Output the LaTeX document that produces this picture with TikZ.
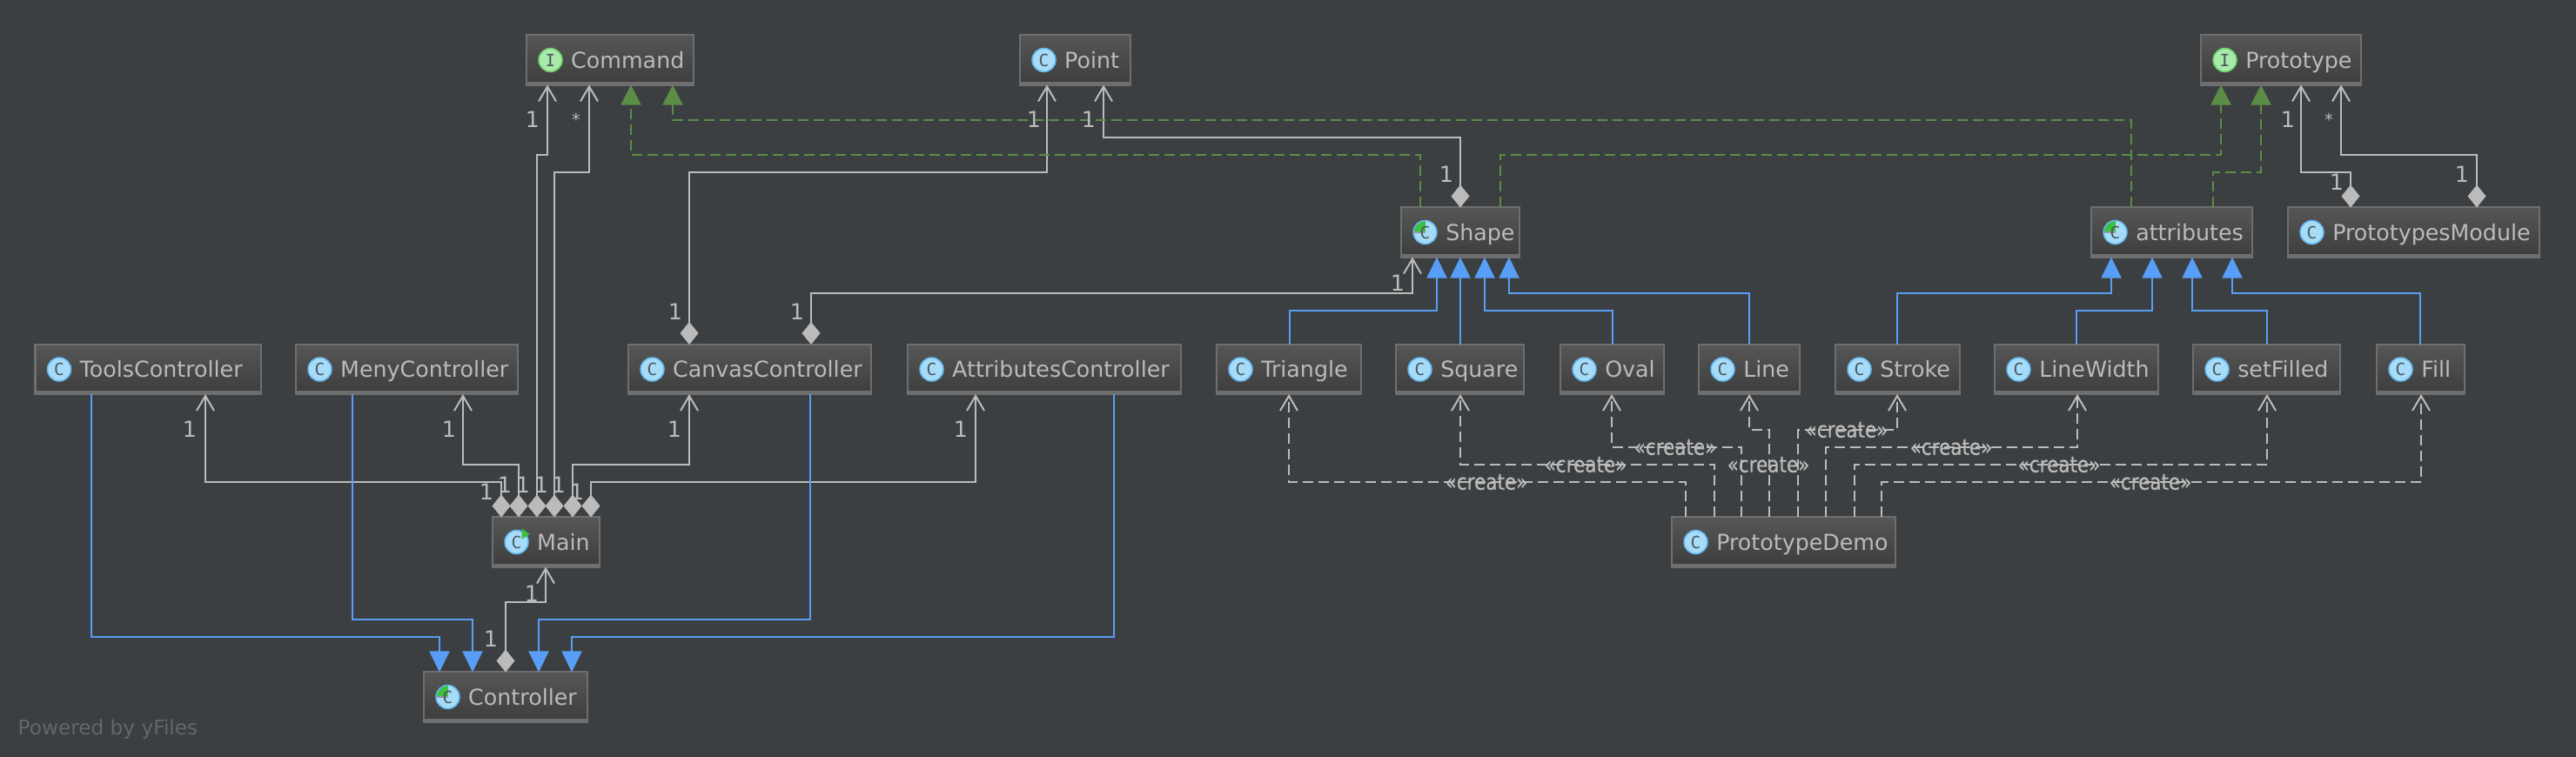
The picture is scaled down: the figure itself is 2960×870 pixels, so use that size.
\documentclass[tikz,border=0pt]{standalone}
\usepackage{fontspec}
\setmainfont{DejaVu Sans}
\newfontfamily\iconfont{DejaVu Sans Mono}
\newfontfamily\createfont[FakeStretch=.85,FakeBold=.4]{DejaVu Sans}
\usetikzlibrary{arrows.meta}
\definecolor{bgcol}{HTML}{3C3F41}
\definecolor{boxedge}{HTML}{6E6E6E}
\definecolor{boxtop}{HTML}{565656}
\definecolor{boxbot}{HTML}{3D3D3D}
\definecolor{ink}{HTML}{BBBBBB}
\definecolor{bluearrow}{HTML}{589DF6}
\definecolor{greenarrow}{HTML}{5B8D47}
\definecolor{iconblue}{HTML}{A6DCF8}
\definecolor{iconrim}{HTML}{62B6EE}
\definecolor{icongreen}{HTML}{A8EBA8}
\definecolor{iconrimg}{HTML}{6CCB6C}
\definecolor{iconpie}{HTML}{3FBF3F}
\definecolor{iconink}{HTML}{4B5560}
\definecolor{faint}{HTML}{63676A}
\tikzset{
classbox/.style={draw=boxedge, line width=.02cm, top color=boxtop, bottom color=boxbot, minimum height=.57cm, inner sep=0, outer sep=0,
	path picture={\fill[boxedge] (path picture bounding box.south west) rectangle ([yshift=.04cm]path picture bounding box.south east);}},
clsicon/.style={circle, minimum size=.27cm, inner sep=0, draw=iconrim, line width=.015cm, fill=iconblue, text=iconink, font=\iconfont\fontsize{5.5}{5.5}\selectfont},
ifcicon/.style={clsicon, draw=iconrimg, fill=icongreen},
absicon/.style={clsicon, path picture={\fill[iconpie] (path picture bounding box.center) rectangle (path picture bounding box.north west);
	\draw[iconink!60, line width=.015cm] (path picture bounding box.west) -- (path picture bounding box.center);}},
classname/.style={anchor=west, inner sep=0, text=ink, text height=.25cm, text depth=.063cm, font=\fontsize{7.2}{9}\selectfont},
mult/.style={inner sep=0, text=ink, font=\fontsize{7.2}{9}\selectfont},
starlabel/.style={inner sep=0, text=ink, font=\fontsize{5.5}{7}\selectfont},
createlabel/.style={inner sep=0, text=ink, font=\createfont\fontsize{7.2}{9}\selectfont},
assoc/.style={draw=ink, line width=.02cm, {Diamond[fill=ink, length=.26cm, width=.21cm]}-{Straight Barb[length=.17cm, width=.2cm]}},
extends/.style={draw=bluearrow, line width=.02cm, -{Triangle[fill=bluearrow, length=.24cm, width=.23cm]}},
realizes/.style={draw=greenarrow, line width=.02cm, dash pattern=on .12cm off .06cm, -{Triangle[fill=greenarrow, length=.23cm, width=.23cm]}},
creates/.style={draw=ink, line width=.02cm, dash pattern=on .12cm off .06cm, -{Straight Barb[length=.17cm, width=.2cm]}}
}
\begin{document}
\begin{tikzpicture}[x=.01cm, y=-.01cm]
\fill[bgcol] (0,0) rectangle (2960,870);
\useasboundingbox (0,0) rectangle (2960,870);

\foreach \nm/\bx/\by/\bw/\ic/\lt/\txt in {
	command/701/69/192/ifcicon/I/Command, point/1235.5/69/127/clsicon/C/Point, prototype/2621/69/184/ifcicon/I/Prototype,
	shape/1678/267/136/absicon/C/Shape, attr/2495.5/267/185/absicon/C/attributes, module/2773.5/267/289/clsicon/C/PrototypesModule,
	tools/170/424.5/259/clsicon/C/ToolsController, meny/467.5/424.5/255/clsicon/C/MenyController, canvas/861.5/424.5/279/clsicon/C/CanvasController,
	attrctl/1200/424.5/314/clsicon/C/AttributesController, triangle/1481/424.5/166/clsicon/C/Triangle, square/1677.5/424.5/147/clsicon/C/Square,
	oval/1852.5/424.5/119/clsicon/C/Oval, line/2010/424.5/116/clsicon/C/Line, stroke/2180.5/424.5/143/clsicon/C/Stroke,
	linewidth/2386/424.5/188/clsicon/C/LineWidth, setfilled/2604.5/424.5/169/clsicon/C/setFilled, fill/2781.5/424.5/101/clsicon/C/Fill,
	main/627.5/623/123/clsicon/C/Main, demo/2049.5/623/257/clsicon/C/PrototypeDemo, controller/581/801/188/absicon/C/Controller}{
	\node[classbox, minimum width=\bw*.01cm] (\nm) at (\bx,\by) {};
	\node[\ic] (\nm-ic) at ([xshift=.275cm]\nm.west) {\lt};
	\node[classname] (\nm-txt) at ([xshift=.505cm]\nm.west) {\txt};
}
\fill[iconpie] ([shift={(6,-16)}]main-ic.center) -- ([shift={(6,-3)}]main-ic.center) -- ([shift={(15,-9)}]main-ic.center) -- cycle;

\foreach \src/\sx/\my/\dst/\dx in {
	main/576/554/tools/236, main/596/534/meny/532, main/617/178/command/629, main/637/198/command/677,
	main/658/534/canvas/792, main/679/554/attrctl/1121, controller/581/692/main/627, canvas/792/198/point/1203,
	canvas/932/337/shape/1623, shape/1678/158/point/1268, module/2701/198/prototype/2644, module/2846/178/prototype/2690}{
	\draw[assoc] (\src.north -| \sx,0) |- (\dx,\my) -- (\dst.south -| \dx,0);
}
\foreach \src/\sx/\my/\dst/\dx in {
	shape/1632/178/command/725, attr/2449/138/command/773, shape/1724/178/prototype/2552, attr/2543/198/prototype/2598}{
	\draw[realizes] (\src.north -| \sx,0) |- (\dx,\my) -- (\dst.south -| \dx,0);
}
\foreach \src/\sx/\my/\dst/\dx in {
	tools/105/732/controller/505, meny/405/712/controller/543, canvas/931/712/controller/619, attrctl/1280/732/controller/657}{
	\draw[extends] (\src.south -| \sx,0) |- (\dx,\my) -- (\dst.north -| \dx,0);
}
\foreach \src/\sx/\my/\dst/\dx in {
	triangle/1482/357/shape/1651, square/1678/357/shape/1678, oval/1853/357/shape/1706, line/2010/337/shape/1734,
	stroke/2180/337/attr/2426, linewidth/2386/357/attr/2473, setfilled/2605/357/attr/2519, fill/2781/337/attr/2565}{
	\draw[extends] (\src.north -| \sx,0) |- (\dx,\my) -- (\dst.south -| \dx,0);
}
\foreach \sx/\my/\dst/\dx in {
	1937/554/triangle/1481, 1970/534/square/1678, 2001/514/oval/1852, 2033/494/line/2010,
	2066/494/stroke/2180, 2098/514/linewidth/2387, 2131/534/setfilled/2605, 2162/554/fill/2782}{
	\draw[creates] (demo.north -| \sx,0) |- (\dx,\my) -- (\dst.south -| \dx,0);
}

\foreach \lx/\ly [count=\n] in {
	218/493, 516/493, 775/493, 1104/493, 559/565, 580/557, 601/557, 622/557, 642/557, 663/565, 611/682, 564/734,
	612/137, 1188/137, 1251/137, 776/358, 916/358, 1662/200, 1606/325, 2629/137, 2685/209, 2829/200}{
	\node[mult] (one\n) at (\lx,\ly) {1};
}
\node[starlabel] (star1) at (662,137) {*};
\node[starlabel] (star2) at (2676,137) {*};
\foreach \lx/\ly [count=\n] in {
	1708/554, 1822/534, 1925/514, 2032/534, 2122/494, 2242/514, 2366/534, 2471/554}{
	\node[createlabel] (create\n) at (\lx,\ly) {«create»};
}
\node[anchor=west, inner sep=0, text=faint, font=\fontsize{6.6}{8}\selectfont] (powered) at (20,838) {Powered by yFiles};
\end{tikzpicture}
\end{document}
